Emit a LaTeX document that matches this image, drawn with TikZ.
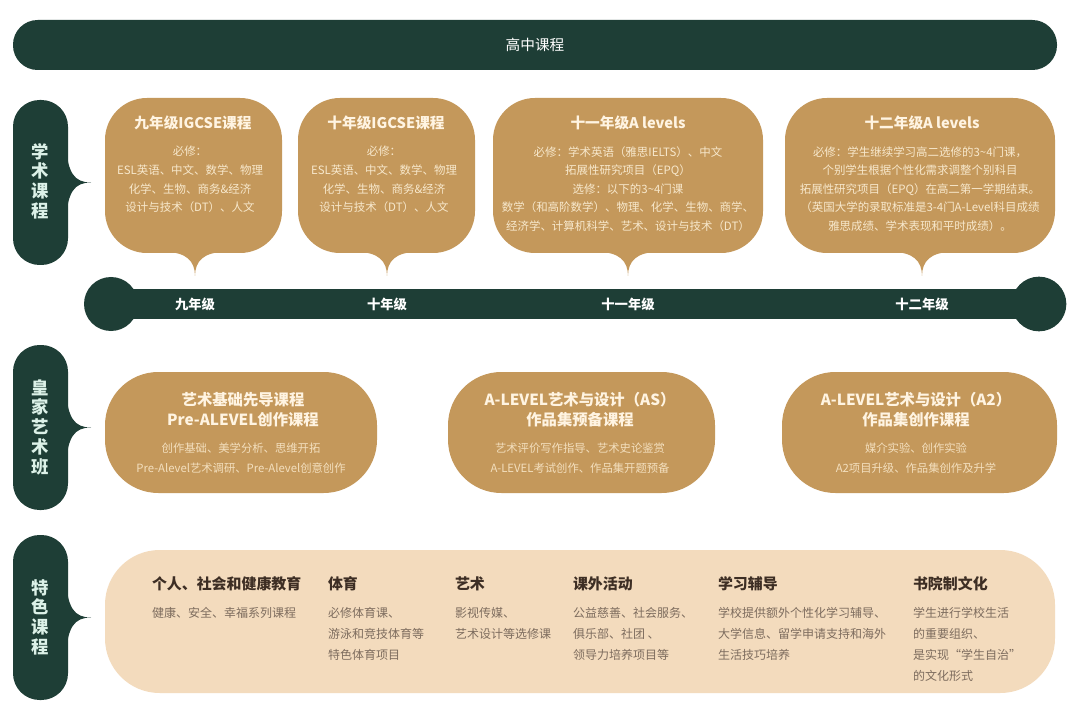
\documentclass[tikz,border=0pt]{standalone}
\usepackage{fontspec}
\setmainfont{Noto Sans CJK SC}
\definecolor{dkgreen}{HTML}{1E3E36}
\definecolor{gold}{HTML}{C4985B}
\definecolor{peach}{HTML}{F3DBBD}
\definecolor{bubtitle}{HTML}{FFF4E2}
\definecolor{bubtext}{HTML}{F7E8CC}
\definecolor{arttext}{HTML}{F3DFBE}
\definecolor{tabtext}{HTML}{DCF1E8}
\definecolor{bottitle}{HTML}{3D2E24}
\definecolor{botbody}{HTML}{7D6C5E}
\begin{document}
\begin{tikzpicture}[x=0.75pt,y=-0.75pt,
  every node/.style={inner sep=0pt,outer sep=0pt},
  bartxt/.style={text=white,font=\fontsize{11}{12}\selectfont},
  tabtxt/.style={text=tabtext,font=\fontsize{13}{14.8}\selectfont\bfseries,align=center},
  bubtitle/.style={text=bubtitle,font=\fontsize{11}{13}\selectfont\bfseries},
  bubbody/.style={text=bubtext,font=\fontsize{8.6}{13.9}\selectfont,align=center},
  yeartxt/.style={text=white,font=\fontsize{10}{12}\selectfont\bfseries},
  arttitle/.style={text=bubtitle,font=\fontsize{11.5}{15}\selectfont\bfseries,align=center},
  artbody/.style={text=arttext,font=\fontsize{8.5}{15}\selectfont,align=center},
  bottitle/.style={text=bottitle,font=\fontsize{11.2}{13}\selectfont\bfseries,anchor=west},
  botbody/.style={text=botbody,font=\fontsize{9}{15.75}\selectfont,align=left,anchor=west}
]
\useasboundingbox (0,0) rectangle (1080,716);
\fill[white] (0,0) rectangle (1080,716);

% top bar
\fill[dkgreen,rounded corners=18.5pt] (13,20) rectangle (1057,70);
\node[bartxt] (top) at (535,45) {高中课程};

% left tabs
\foreach \t/\b in {100/265, 345/510, 535/700}{
  \pgfmathsetmacro{\cy}{(\t+\b)/2}
  \fill[dkgreen,rounded corners=20pt] (13,\t) rectangle (68,\b);
  \fill[dkgreen] (66,{\cy-36}) .. controls (68,{\cy-10}) and (74,\cy) .. (91,\cy)
     .. controls (74,\cy) and (68,{\cy+10}) .. (66,{\cy+36}) -- cycle;
}
\node[tabtxt] (tab1) at (40.5,181) {学\\术\\课\\程};
\node[tabtxt] (tab2) at (40.5,427) {皇\\家\\艺\\术\\班};
\node[tabtxt] (tab3) at (40.5,617) {特\\色\\课\\程};

% speech bubbles
\foreach \l/\r/\c in {105/282/195, 298/475/387, 493/763/628, 785/1055/922}{
  \fill[gold,rounded corners=31.5pt] (\l,98) rectangle (\r,253);
  \fill[gold] ({\c-30},252) .. controls ({\c-9},252) and (\c,261) .. (\c,276)
     .. controls (\c,261) and ({\c+9},252) .. ({\c+30},252) -- ({\c+30},240) -- ({\c-30},240) -- cycle;
}
\node[bubtitle] (b1t) at (193,123) {九年级IGCSE课程};
\node[bubbody] (b1b) at (190,179.5) {必修：\\ESL英语、中文、数学、物理\\化学、生物、商务\&经济\\设计与技术（DT）、人文};
\node[bubtitle] (b2t) at (386,123) {十年级IGCSE课程};
\node[bubbody] (b2b) at (384,179.5) {必修：\\ESL英语、中文、数学、物理\\化学、生物、商务\&经济\\设计与技术（DT）、人文};
\node[bubtitle] (b3t) at (628,123) {十一年级A levels};
\node[bubbody] (b3b) at (628,189) {必修：学术英语（雅思IELTS）、中文\\拓展性研究项目（EPQ）\\选修：以下的3\textasciitilde4门课\\数学（和高阶数学）、物理、化学、生物、商学、\\经济学、计算机科学、艺术、设计与技术（DT）};
\node[bubtitle] (b4t) at (922,123) {十二年级A levels};
\node[bubbody] (b4b) at (920,189) {必修：学生继续学习高二选修的3\textasciitilde4门课，\\个别学生根据个性化需求调整个别科目\\拓展性研究项目（EPQ）在高二第一学期结束。\\（英国大学的录取标准是3-4门A-Level科目成绩\\雅思成绩、学术表现和平时成绩）。};

% timeline
\fill[dkgreen] (111,289) rectangle (1039,319);
\fill[dkgreen] (111,304) circle[radius=20.25pt];
\fill[dkgreen] (1039,304) circle[radius=20.5pt];
\node[yeartxt] (y9) at (195,304) {九年级};
\node[yeartxt] (y10) at (387,304) {十年级};
\node[yeartxt] (y11) at (628,304) {十一年级};
\node[yeartxt] (y12) at (922,304) {十二年级};

% art boxes
\fill[gold,rounded corners=40pt] (105,372) rectangle (377,493);
\fill[gold,rounded corners=40pt] (448,372) rectangle (715,493);
\fill[gold,rounded corners=40pt] (782,372) rectangle (1057,493);
\node[arttitle] (a1t) at (243,410) {艺术基础先导课程\\Pre-ALEVEL创作课程};
\node[artbody] (a1b) at (241,458) {创作基础、美学分析、思维开拓\\Pre-Alevel艺术调研、Pre-Alevel创意创作};
\node[arttitle] (a2t) at (580,410) {A-LEVEL艺术与设计（AS）\\作品集预备课程};
\node[artbody] (a2b) at (580,458) {艺术评价写作指导、艺术史论鉴赏\\A-LEVEL考试创作、作品集开题预备};
\node[arttitle] (a3t) at (916,410) {A-LEVEL艺术与设计（A2）\\作品集创作课程};
\node[artbody] (a3b) at (916,458) {媒介实验、创作实验\\A2项目升级、作品集创作及升学};

% bottom strip
\fill[peach,rounded corners=41pt] (105,550) rectangle (1055,693);
\node[bottitle] (c1t) at (152,584) {个人、社会和健康教育};
\node[botbody] (c1b) at (152,613) {健康、安全、幸福系列课程};
\node[bottitle] (c2t) at (328,584) {体育};
\node[botbody] (c2b) at (328,634) {必修体育课、\\游泳和竞技体育等\\特色体育项目};
\node[bottitle] (c3t) at (455,584) {艺术};
\node[botbody] (c3b) at (455,623.5) {影视传媒、\\艺术设计等选修课};
\node[bottitle] (c4t) at (573,584) {课外活动};
\node[botbody] (c4b) at (573,634) {公益慈善、社会服务、\\俱乐部、社团 、\\领导力培养项目等};
\node[bottitle] (c5t) at (718,584) {学习辅导};
\node[botbody] (c5b) at (718,634) {学校提供额外个性化学习辅导、\\大学信息、留学申请支持和海外\\生活技巧培养};
\node[bottitle] (c6t) at (913,584) {书院制文化};
\node[botbody] (c6b) at (913,644.5) {学生进行学校生活\\的重要组织、\\是实现“学生自治”\\的文化形式};
\end{tikzpicture}
\end{document}
